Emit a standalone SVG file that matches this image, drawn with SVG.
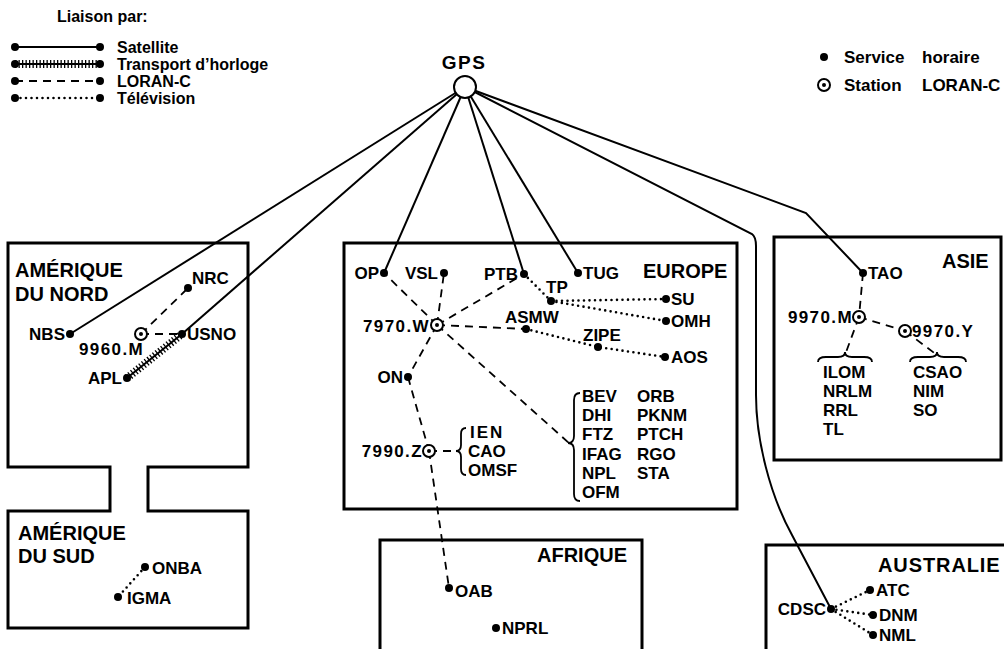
<svg xmlns="http://www.w3.org/2000/svg" width="1004" height="649" viewBox="0 0 1004 649">
<style>
text{font-family:"Liberation Sans",Arial,sans-serif;font-weight:bold;fill:#000}
.lbl{font-size:17px}
.num{letter-spacing:1.4px}
.reg{font-size:20px}
.leg{font-size:16px}
.end{text-anchor:end}
.box{fill:none;stroke:#000;stroke-width:3}
.sat{fill:none;stroke:#000;stroke-width:2}
.lor{fill:none;stroke:#000;stroke-width:1.8;stroke-dasharray:8 6}
.tv{fill:none;stroke:#000;stroke-width:2.6;stroke-dasharray:0 5.5;stroke-linecap:round}
.clk{fill:none;stroke:#000;stroke-width:8;stroke-dasharray:1.3 2.2}
.clk2{fill:none;stroke:#000;stroke-width:2}
.br{fill:none;stroke:#000;stroke-width:1.8}
.st{fill:#fff;stroke:#000;stroke-width:2}
</style>
<defs>
<circle id="d" r="4" fill="#000"/>
<g id="s"><circle r="6" class="st"/><circle r="2" fill="#000"/></g>
</defs>

<g id="legend">
<text class="leg" x="57" y="22">Liaison par:</text>
<line class="sat" x1="15" y1="47" x2="100" y2="47"/><use href="#d" x="15" y="47"/><use href="#d" x="100" y="47"/>
<text class="leg" x="117" y="52.5">Satellite</text>
<line class="clk" x1="15" y1="64" x2="100" y2="64"/><line class="clk2" x1="15" y1="64" x2="100" y2="64"/><use href="#d" x="15" y="64"/><use href="#d" x="100" y="64"/>
<text class="leg" x="117" y="69.5">Transport d’horloge</text>
<line class="lor" x1="15" y1="81" x2="100" y2="81"/><use href="#d" x="15" y="81"/><use href="#d" x="100" y="81"/>
<text class="leg" x="117" y="86.5">LORAN-C</text>
<line class="tv" x1="15" y1="98" x2="100" y2="98"/><use href="#d" x="15" y="98"/><use href="#d" x="100" y="98"/>
<text class="leg" x="117" y="103.5">Télévision</text>
<use href="#d" x="824" y="57"/>
<text class="lbl" x="844" y="63">Service</text><text class="lbl" x="922" y="63">horaire</text>
<use href="#s" x="824" y="85"/>
<text class="lbl" x="844" y="91">Station</text><text class="lbl" x="922" y="91">LORAN-C</text>
</g>

<g id="regions">
<path class="box" d="M8,243 H248 V467 H148 V511 H248 V628 H8 V511 H110 V467 H8 Z"/>
<rect class="box" x="344" y="243" width="393" height="266"/>
<rect class="box" x="774" y="237" width="227" height="223"/>
<path class="box" d="M380,649 V540 H642 V649"/>
<path class="box" d="M766,649 V545 H1004"/>
<text class="reg" x="15" y="277">AMÉRIQUE</text>
<text class="reg" x="15" y="301">DU NORD</text>
<text class="reg" x="18" y="540">AMÉRIQUE</text>
<text class="reg" x="18" y="563">DU SUD</text>
<text class="reg" x="643" y="278">EUROPE</text>
<text class="reg" x="942" y="268">ASIE</text>
<text class="reg" x="537" y="562">AFRIQUE</text>
<text class="reg" x="878" y="572" style="letter-spacing:0.9px">AUSTRALIE</text>
</g>

<g id="connectors">
<path class="sat" d="M465,87 L70,334"/>
<path class="sat" d="M465,87 L182,334"/>
<path class="sat" d="M465,87 L384,273"/>
<path class="sat" d="M465,87 L524,274"/>
<path class="sat" d="M465,87 L578,273"/>
<path class="sat" d="M465,87 L806,213 L863,273"/>
<path class="sat" d="M465,87 L752,234 Q756,237 756,246 L756,395 C756,440 770,495 792,535 L831,609"/>
<line class="clk" x1="127" y1="378" x2="182" y2="334"/>
<line class="clk2" x1="127" y1="378" x2="182" y2="334"/>
<path class="lor" d="M141,334 L188,288 M141,334 L182,334"/>
<path class="lor" d="M437,325 L384,273 M437,325 L444,273 M437,325 L524,274 M437,325 L526,329 M437,325 L408,377 M437,325 L569,443"/>
<path class="lor" d="M408,377 L429,451 M429,451 L457,451 M429,451 L449,588"/>
<path class="lor" d="M863,273 L859,317 M859,317 L905,331 M859,317 L845,355 M905,331 L937,355"/>
<path class="tv" d="M145,567 L118,597"/>
<path class="tv" d="M524,274 L551,301 M551,301 L666,299 M551,301 L666,321 M526,329 L598,347 L665,357"/>
<path class="tv" d="M831,609 L870,590 M831,609 L873,615 M831,609 L873,635"/>
<path class="br" d="M466,428 Q461,428 461,434 L461,445 Q461,451 456,451 Q461,451 461,457 L461,469 Q461,475 466,475"/>
<path class="br" d="M580,393 Q574,393 574,400 L574,436 Q574,443 568,443 Q574,443 574,450 L574,494 Q574,501 580,501"/>
<path class="br" d="M818,362 Q818,357 826,357 L838,357 Q845,357 845,352 Q845,357 852,357 L864,357 Q872,357 872,362"/>
<path class="br" d="M910,362 Q910,357 918,357 L930,357 Q937,357 937,352 Q937,357 944,357 L958,357 Q966,357 966,362"/>
</g>

<g id="GPS"><circle cx="465" cy="87" r="11" fill="#fff" stroke="#000" stroke-width="2"/><text x="464" y="69" style="font-size:19px;text-anchor:middle;letter-spacing:1.5px">GPS</text></g>

<g id="NBS"><use href="#d" x="70" y="334"/><text class="lbl end" x="65" y="340">NBS</text></g>
<g id="NRC"><use href="#d" x="188" y="288"/><text class="lbl" x="192" y="284">NRC</text></g>
<g id="S9960M"><use href="#s" x="141" y="334"/><text class="lbl num" x="79" y="355">9960.M</text></g>
<g id="USNO"><use href="#d" x="182" y="334"/><text class="lbl" x="187" y="340">USNO</text></g>
<g id="APL"><use href="#d" x="127" y="378"/><text class="lbl end" x="122" y="384">APL</text></g>

<g id="ONBA"><use href="#d" x="145" y="567"/><text class="lbl" x="152" y="574">ONBA</text></g>
<g id="IGMA"><use href="#d" x="118" y="597"/><text class="lbl" x="127" y="604">IGMA</text></g>

<g id="OP"><use href="#d" x="384" y="273"/><text class="lbl end" x="379" y="279">OP</text></g>
<g id="VSL"><use href="#d" x="444" y="273"/><text class="lbl end" x="438" y="279">VSL</text></g>
<g id="PTB"><use href="#d" x="524" y="274"/><text class="lbl end" x="518" y="280">PTB</text></g>
<g id="TUG"><use href="#d" x="578" y="273"/><text class="lbl" x="583" y="279">TUG</text></g>
<g id="TP"><use href="#d" x="551" y="301"/><text class="lbl" x="546" y="293">TP</text></g>
<g id="S7970W"><use href="#s" x="437" y="325"/><text class="lbl end num" x="430" y="332">7970.W</text></g>
<g id="ASMW"><use href="#d" x="526" y="329"/><text class="lbl" x="505" y="323">ASMW</text></g>
<g id="ZIPE"><use href="#d" x="598" y="347"/><text class="lbl" x="583" y="341">ZIPE</text></g>
<g id="SU"><use href="#d" x="666" y="299"/><text class="lbl" x="671" y="305">SU</text></g>
<g id="OMH"><use href="#d" x="666" y="321"/><text class="lbl" x="671" y="327">OMH</text></g>
<g id="AOS"><use href="#d" x="665" y="357"/><text class="lbl" x="671" y="363">AOS</text></g>
<g id="ON"><use href="#d" x="408" y="377"/><text class="lbl end" x="403" y="383">ON</text></g>
<g id="S7990Z"><use href="#s" x="429" y="451"/><text class="lbl end num" x="423" y="457">7990.Z</text></g>
<g id="list7990">
<text class="lbl" x="470" y="438" style="letter-spacing:2px">IEN</text>
<text class="lbl" x="468" y="457">CAO</text>
<text class="lbl" x="468" y="476">OMSF</text>
</g>
<g id="list7970">
<text class="lbl" x="582" y="402">BEV</text><text class="lbl" x="637" y="402">ORB</text>
<text class="lbl" x="582" y="421">DHI</text><text class="lbl" x="637" y="421">PKNM</text>
<text class="lbl" x="582" y="440">FTZ</text><text class="lbl" x="637" y="440">PTCH</text>
<text class="lbl" x="582" y="460">IFAG</text><text class="lbl" x="637" y="460">RGO</text>
<text class="lbl" x="582" y="479">NPL</text><text class="lbl" x="637" y="479">STA</text>
<text class="lbl" x="582" y="498">OFM</text>
</g>

<g id="TAO"><use href="#d" x="863" y="273"/><text class="lbl" x="868" y="279">TAO</text></g>
<g id="S9970M"><use href="#s" x="859" y="317"/><text class="lbl end num" x="853" y="323">9970.M</text></g>
<g id="S9970Y"><use href="#s" x="905" y="331"/><text class="lbl num" x="912" y="337">9970.Y</text></g>
<g id="list9970M">
<text class="lbl" x="823" y="378">ILOM</text>
<text class="lbl" x="823" y="397">NRLM</text>
<text class="lbl" x="823" y="416">RRL</text>
<text class="lbl" x="823" y="435">TL</text>
</g>
<g id="list9970Y">
<text class="lbl" x="913" y="378">CSAO</text>
<text class="lbl" x="913" y="397">NIM</text>
<text class="lbl" x="913" y="416">SO</text>
</g>

<g id="OAB"><use href="#d" x="449" y="588"/><text class="lbl" x="455" y="597">OAB</text></g>
<g id="NPRL"><use href="#d" x="496" y="628"/><text class="lbl" x="502" y="634">NPRL</text></g>

<g id="CDSC"><use href="#d" x="831" y="609"/><text class="lbl end" x="826" y="615">CDSC</text></g>
<g id="ATC"><use href="#d" x="870" y="590"/><text class="lbl" x="876" y="596">ATC</text></g>
<g id="DNM"><use href="#d" x="873" y="615"/><text class="lbl" x="879" y="621">DNM</text></g>
<g id="NML"><use href="#d" x="873" y="635"/><text class="lbl" x="879" y="641">NML</text></g>
</svg>
